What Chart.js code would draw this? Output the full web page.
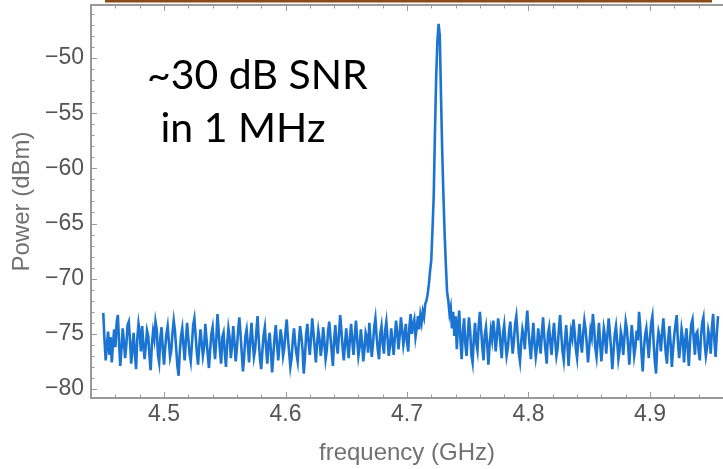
<!DOCTYPE html>
<html>
<head>
<meta charset="utf-8">
<script src="https://cdn.jsdelivr.net/npm/chart.js@4.4.1/dist/chart.umd.min.js"></script>
<style>
  html, body { margin: 0; padding: 0; background: #ffffff; }
  #wrap { width: 723px; height: 469px; position: relative; }
</style>
</head>
<body>
<div id="wrap"><canvas id="c" width="723" height="469"></canvas></div>
<script>
// ---- data ----
const frequencyGHz = [
  4.450,4.451,4.452,4.453,4.454,4.455,4.456,4.457,4.458,4.459,
  4.460,4.461,4.462,4.463,4.464,4.465,4.466,4.467,4.468,4.469,
  4.470,4.471,4.472,4.473,4.474,4.475,4.476,4.477,4.478,4.479,
  4.480,4.481,4.482,4.483,4.484,4.485,4.486,4.487,4.488,4.489,
  4.490,4.491,4.492,4.493,4.494,4.495,4.496,4.497,4.498,4.499,
  4.500,4.501,4.502,4.503,4.504,4.505,4.506,4.507,4.508,4.509,
  4.510,4.511,4.512,4.513,4.514,4.515,4.516,4.517,4.518,4.519,
  4.520,4.521,4.522,4.523,4.524,4.525,4.526,4.527,4.528,4.529,
  4.530,4.531,4.532,4.533,4.534,4.535,4.536,4.537,4.538,4.539,
  4.540,4.541,4.542,4.543,4.544,4.545,4.546,4.547,4.548,4.549,
  4.550,4.551,4.552,4.553,4.554,4.555,4.556,4.557,4.558,4.559,
  4.560,4.561,4.562,4.563,4.564,4.565,4.566,4.567,4.568,4.569,
  4.570,4.571,4.572,4.573,4.574,4.575,4.576,4.577,4.578,4.579,
  4.580,4.581,4.582,4.583,4.584,4.585,4.586,4.587,4.588,4.589,
  4.590,4.591,4.592,4.593,4.594,4.595,4.596,4.597,4.598,4.599,
  4.600,4.601,4.602,4.603,4.604,4.605,4.606,4.607,4.608,4.609,
  4.610,4.611,4.612,4.613,4.614,4.615,4.616,4.617,4.618,4.619,
  4.620,4.621,4.622,4.623,4.624,4.625,4.626,4.627,4.628,4.629,
  4.630,4.631,4.632,4.633,4.634,4.635,4.636,4.637,4.638,4.639,
  4.640,4.641,4.642,4.643,4.644,4.645,4.646,4.647,4.648,4.649,
  4.650,4.651,4.652,4.653,4.654,4.655,4.656,4.657,4.658,4.659,
  4.660,4.661,4.662,4.663,4.664,4.665,4.666,4.667,4.668,4.669,
  4.670,4.671,4.672,4.673,4.674,4.675,4.676,4.677,4.678,4.679,
  4.680,4.681,4.682,4.683,4.684,4.685,4.686,4.687,4.688,4.689,
  4.690,4.691,4.692,4.693,4.694,4.695,4.696,4.697,4.698,4.699,
  4.700,4.701,4.702,4.703,4.704,4.705,4.706,4.707,4.708,4.709,
  4.710,4.711,4.712,4.713,4.714,4.715,4.716,4.717,4.718,4.719,
  4.720,4.721,4.722,4.723,4.724,4.725,4.726,4.727,4.728,4.729,
  4.730,4.731,4.732,4.733,4.734,4.735,4.736,4.737,4.738,4.739,
  4.740,4.741,4.742,4.743,4.744,4.745,4.746,4.747,4.748,4.749,
  4.750,4.751,4.752,4.753,4.754,4.755,4.756,4.757,4.758,4.759,
  4.760,4.761,4.762,4.763,4.764,4.765,4.766,4.767,4.768,4.769,
  4.770,4.771,4.772,4.773,4.774,4.775,4.776,4.777,4.778,4.779,
  4.780,4.781,4.782,4.783,4.784,4.785,4.786,4.787,4.788,4.789,
  4.790,4.791,4.792,4.793,4.794,4.795,4.796,4.797,4.798,4.799,
  4.800,4.801,4.802,4.803,4.804,4.805,4.806,4.807,4.808,4.809,
  4.810,4.811,4.812,4.813,4.814,4.815,4.816,4.817,4.818,4.819,
  4.820,4.821,4.822,4.823,4.824,4.825,4.826,4.827,4.828,4.829,
  4.830,4.831,4.832,4.833,4.834,4.835,4.836,4.837,4.838,4.839,
  4.840,4.841,4.842,4.843,4.844,4.845,4.846,4.847,4.848,4.849,
  4.850,4.851,4.852,4.853,4.854,4.855,4.856,4.857,4.858,4.859,
  4.860,4.861,4.862,4.863,4.864,4.865,4.866,4.867,4.868,4.869,
  4.870,4.871,4.872,4.873,4.874,4.875,4.876,4.877,4.878,4.879,
  4.880,4.881,4.882,4.883,4.884,4.885,4.886,4.887,4.888,4.889,
  4.890,4.891,4.892,4.893,4.894,4.895,4.896,4.897,4.898,4.899,
  4.900,4.901,4.902,4.903,4.904,4.905,4.906,4.907,4.908,4.909,
  4.910,4.911,4.912,4.913,4.914,4.915,4.916,4.917,4.918,4.919,
  4.920,4.921,4.922,4.923,4.924,4.925,4.926,4.927,4.928,4.929,
  4.930,4.931,4.932,4.933,4.934,4.935,4.936,4.937,4.938,4.939,
  4.940,4.941,4.942,4.943,4.944,4.945,4.946,4.947,4.948,4.949,
  4.950,4.951,4.952,4.953,4.954,4.955,4.956
];

const powerDBm = [
  -73.1,-75.5,-77.4,-76.0,-74.8,-76.9,-75.3,-77.6,-75.9,-74.6,
  -76.2,-74.0,-73.3,-75.8,-77.9,-76.4,-74.5,-75.7,-77.2,-76.0,
  -74.2,-73.9,-75.6,-77.7,-76.3,-74.9,-76.8,-78.2,-75.4,-74.1,
  -75.0,-76.6,-74.3,-75.9,-77.3,-76.1,-74.7,-75.2,-77.0,-78.3,
  -76.0,-74.8,-75.5,-73.9,-74.6,-76.9,-77.6,-75.3,-74.4,-76.4,
  -77.8,-76.2,-75.0,-74.3,-75.7,-77.1,-76.5,-74.9,-73.8,-74.7,
  -76.3,-77.9,-78.8,-76.6,-75.2,-74.5,-76.0,-77.4,-75.6,-74.0,
  -75.4,-76.8,-77.5,-75.9,-74.2,-73.6,-75.1,-76.7,-77.8,-76.1,
  -74.6,-75.8,-77.0,-76.2,-74.1,-75.5,-76.9,-78.1,-76.4,-75.0,
  -74.4,-76.0,-77.3,-75.6,-73.2,-74.8,-76.5,-77.7,-75.3,-74.9,
  -76.7,-78.0,-75.9,-74.5,-75.3,-77.2,-76.1,-74.3,-75.8,-77.5,
  -76.3,-74.7,-73.5,-75.0,-76.8,-78.4,-77.0,-75.2,-74.6,-76.0,
  -77.6,-75.5,-74.0,-75.7,-77.1,-76.4,-74.8,-73.4,-75.6,-77.3,
  -78.2,-76.5,-75.1,-74.4,-76.2,-77.7,-75.8,-74.9,-76.6,-78.5,
  -76.9,-75.3,-74.2,-75.9,-77.4,-76.0,-74.6,-75.5,-77.0,-76.3,
  -74.8,-73.7,-75.4,-76.7,-78.0,-77.2,-75.6,-74.5,-75.9,-76.8,
  -77.5,-75.7,-74.3,-75.2,-76.4,-78.6,-77.1,-75.0,-74.1,-75.8,
  -76.9,-75.4,-73.6,-74.9,-76.2,-77.6,-75.9,-74.7,-75.5,-77.0,
  -76.1,-74.4,-75.7,-77.3,-76.5,-74.8,-73.9,-75.3,-76.6,-77.9,
  -75.6,-74.2,-75.9,-76.8,-75.1,-73.3,-74.7,-76.3,-77.4,-75.8,
  -74.5,-76.0,-77.2,-75.4,-74.1,-75.7,-76.9,-75.2,-73.8,-75.5,
  -77.0,-76.2,-74.6,-75.8,-77.5,-76.4,-74.9,-75.3,-76.7,-74.0,
  -75.6,-77.1,-75.9,-74.4,-73.6,-75.2,-76.5,-77.3,-75.0,-74.3,
  -75.9,-76.8,-74.7,-73.9,-75.4,-77.0,-76.1,-74.5,-75.6,-76.9,
  -75.3,-73.8,-74.9,-76.4,-75.1,-73.5,-74.6,-76.0,-75.2,-74.1,
  -75.7,-76.6,-74.3,-73.2,-75.0,-74.2,-73.7,-75.3,-74.5,-73.4,
  -74.6,-73.3,-74.0,-73.0,-73.5,-72.3,-72.0,-71.4,-70.5,-69.3,
  -68.3,-65.5,-62.5,-56.8,-51.8,-48.5,-46.9,-48.0,-53.5,-58.5,
  -62.5,-66.0,-68.8,-71.2,-72.0,-73.2,-72.6,-74.5,-73.0,-75.2,
  -73.4,-76.4,-74.1,-72.9,-75.6,-77.3,-74.8,-73.6,-75.9,-77.0,
  -75.2,-73.5,-74.8,-76.9,-77.6,-75.4,-74.0,-75.8,-76.5,-74.3,
  -73.0,-74.6,-76.2,-77.4,-75.1,-74.4,-75.9,-77.8,-76.0,-74.7,
  -75.5,-73.8,-74.9,-76.6,-75.3,-73.6,-74.5,-76.1,-77.2,-75.0,
  -74.2,-75.7,-77.0,-76.3,-74.8,-73.9,-75.4,-76.8,-75.6,-74.1,
  -73.4,-75.0,-76.7,-77.5,-75.8,-74.6,-75.2,-76.4,-74.3,-72.9,
  -74.7,-76.1,-77.3,-75.5,-74.0,-75.9,-77.1,-76.2,-74.5,-75.6,
  -76.8,-74.9,-73.5,-75.3,-76.5,-77.7,-75.0,-74.4,-75.8,-76.9,
  -75.2,-74.0,-75.6,-77.0,-76.3,-74.6,-73.3,-75.1,-76.6,-77.4,
  -75.7,-74.2,-75.9,-77.9,-76.1,-74.8,-75.4,-73.7,-74.9,-76.4,
  -77.2,-75.5,-74.1,-75.8,-76.7,-75.0,-73.8,-74.6,-76.0,-77.6,
  -76.2,-74.7,-75.3,-73.2,-74.4,-76.3,-77.1,-75.6,-74.0,-75.9,
  -77.5,-76.0,-74.5,-75.2,-76.8,-75.1,-73.6,-74.9,-76.4,-78.2,
  -76.6,-75.0,-74.3,-75.7,-77.3,-76.5,-74.8,-75.4,-76.9,-75.3,
  -73.9,-74.6,-76.1,-77.8,-75.9,-74.2,-75.5,-77.0,-76.2,-74.7,
  -75.6,-73.0,-74.4,-76.7,-78.4,-76.3,-75.1,-74.5,-75.9,-77.2,
  -75.4,-74.0,-73.4,-75.8,-77.5,-78.6,-76.0,-74.8,-75.3,-76.6,
  -74.9,-73.6,-75.2,-76.8,-77.7,-75.5,-74.3,-75.9,-78.0,-76.4,
  -75.1,-74.2,-73.3,-75.7,-77.2,-76.1,-74.6,-75.4,-77.6,-75.8,
  -74.5,-76.3,-77.9,-75.6,-74.1,-73.7,-75.5,-76.9,-75.0,-74.8,
  -76.5,-77.4,-75.2,-74.0,-73.5,-75.9,-77.0,-76.2,-74.7,-75.3,
  -76.8,-74.4,-73.2,-75.6,-77.1,-75.0,-73.4
];

const xTickValues = [4.5, 4.6, 4.7, 4.8, 4.9];
const yTickValues = [-80, -75, -70, -65, -60, -55, -50];
const xMinorStep = 0.02;
const yMinorStep = 1;
const xTitle = 'frequency (GHz)';
const yTitle = 'Power (dBm)';
const noteLines = ['~30 dB SNR', ' in 1 MHz'];

// ---- chart ----
const points = frequencyGHz.map((f, i) => ({ x: f, y: powerDBm[i] }));
const frameColor = '#999999';
const labelColor = '#555555';
const titleColor = '#717171';
const axisFont = '"Liberation Sans", Arial, sans-serif';

const framePlugin = {
  id: 'frame',
  afterDatasetsDraw(chart) {
    const ctx = chart.ctx;
    const xs = chart.scales.x, ys = chart.scales.y;
    const a = chart.chartArea;
    ctx.save();
    ctx.strokeStyle = frameColor;
    ctx.lineWidth = 2;
    ctx.beginPath();
    ctx.moveTo(a.left - 1, a.top);
    ctx.lineTo(a.right, a.top);
    ctx.stroke();
    ctx.lineWidth = 1;
    const x0 = Math.ceil(xs.min / xMinorStep - 1e-9);
    const x1 = Math.floor(xs.max / xMinorStep + 1e-9);
    for (let k = x0; k <= x1; k++) {
      const v = k * xMinorStep;
      const major = xTickValues.some(t => Math.abs(t - v) < 1e-6);
      const len = major ? 6 : 3.5;
      const px = Math.round(xs.getPixelForValue(v)) + 0.5;
      ctx.beginPath();
      ctx.moveTo(px, a.bottom); ctx.lineTo(px, a.bottom - len);
      ctx.moveTo(px, a.top); ctx.lineTo(px, a.top + len);
      ctx.stroke();
    }
    const y0 = Math.ceil(ys.min / yMinorStep);
    const y1 = Math.floor(ys.max / yMinorStep);
    for (let k = y0; k <= y1; k++) {
      const v = k * yMinorStep;
      const major = yTickValues.includes(v);
      const len = major ? 6 : 3.5;
      const py = Math.round(ys.getPixelForValue(v)) + 0.5;
      ctx.beginPath();
      ctx.moveTo(a.left, py); ctx.lineTo(a.left + len, py);
      ctx.stroke();
    }
    // slide border strip above the plot
    ctx.fillStyle = '#8c4a17';
    ctx.fillRect(105, 0, 607, 2.5);
    // annotation
    ctx.fillStyle = '#000000';
    ctx.font = '41px Lato, "Open Sans", sans-serif';
    ctx.textBaseline = 'alphabetic';
    ctx.textAlign = 'left';
    ctx.fillText(noteLines[0], 147, 89);
    ctx.fillText(noteLines[1], 150, 142);
    ctx.restore();
  }
};

new Chart(document.getElementById('c'), {
  type: 'line',
  data: {
    datasets: [{
      data: points,
      borderColor: '#1c74d2',
      borderWidth: 2.6,
      pointRadius: 0,
      tension: 0,
      fill: false
    }]
  },
  options: {
    responsive: false,
    animation: false,
    events: [],
    layout: { padding: { top: 5, left: 0, right: 0, bottom: 0 } },
    plugins: { legend: { display: false }, tooltip: { enabled: false } },
    scales: {
      x: {
        type: 'linear',
        min: 4.4399,
        max: 4.9601,
        afterFit(s) { s.height = 71; s.paddingLeft = 0; s.paddingRight = 0; },
        afterBuildTicks(s) { s.ticks = xTickValues.map(v => ({ value: v })); },
        grid: { display: false, drawTicks: false },
        border: { display: true, color: frameColor, width: 2 },
        ticks: {
          color: labelColor,
          font: { family: axisFont, size: 23 },
          padding: 3,
          maxRotation: 0,
          callback: v => v.toFixed(1)
        },
        title: {
          display: true,
          text: xTitle,
          color: titleColor,
          font: { family: axisFont, size: 24 },
          padding: { top: 0, bottom: 1 }
        }
      },
      y: {
        type: 'linear',
        min: -80.816,
        max: -45.196,
        afterFit(s) { s.width = 91; s.paddingTop = 0; s.paddingBottom = 0; },
        afterBuildTicks(s) { s.ticks = yTickValues.map(v => ({ value: v })); },
        grid: { display: false, drawTicks: false },
        border: { display: true, color: frameColor, width: 2 },
        ticks: {
          color: labelColor,
          font: { family: axisFont, size: 23 },
          padding: 7,
          callback: v => String(v).replace('-', '\u2212')
        },
        title: {
          display: true,
          text: yTitle,
          color: titleColor,
          font: { family: axisFont, size: 24 },
          padding: { top: 8, bottom: 0 }
        }
      }
    }
  },
  plugins: [framePlugin]
});
</script>
</body>
</html>
